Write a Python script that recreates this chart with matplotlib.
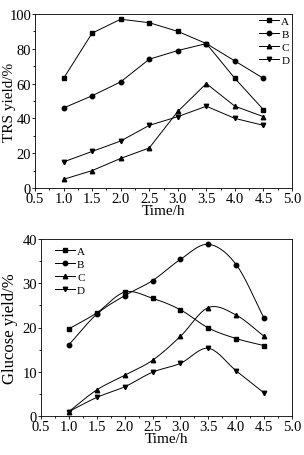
import numpy as np
import matplotlib
matplotlib.use('Agg')
import matplotlib.pyplot as plt
from matplotlib.ticker import MultipleLocator, FormatStrFormatter

plt.rcParams['font.family'] = ['Liberation Serif', 'DejaVu Serif']
plt.rcParams['font.size'] = 10

time = [1.0, 1.5, 2.0, 2.5, 3.0, 3.5, 4.0, 4.5]
labels = ['A', 'B', 'C', 'D']
markers = ['s', 'o', '^', 'v']

trs = {
    'A': [63, 89, 97, 95, 90, 83, 63, 45],
    'B': [46, 53, 61, 74, 79, 83, 73, 63],
    'C': [5, 10, 17, 23, 44, 60, 47, 41],
    'D': [15, 21, 27, 36, 41, 47, 40, 36],
}
glucose = {
    'A': [19.7, 23.3, 28.0, 26.6, 24.0, 19.9, 17.5, 15.9],
    'B': [16.1, 23.0, 27.2, 30.6, 35.4, 38.8, 34.2, 22.1],
    'C': [1.0, 5.9, 9.2, 12.6, 18.0, 24.5, 22.8, 18.0],
    'D': [1.0, 4.2, 6.6, 9.9, 11.9, 15.3, 10.2, 5.2],
}


def smooth(x, y, n=20):
    # catmull-rom curve through the points, only for drawing
    x = np.asarray(x, float)
    y = np.asarray(y, float)
    px = np.concatenate([[2 * x[0] - x[1]], x, [2 * x[-1] - x[-2]]])
    py = np.concatenate([[2 * y[0] - y[1]], y, [2 * y[-1] - y[-2]]])
    xs, ys = [], []
    t = np.linspace(0, 1, n, endpoint=False)
    for i in range(1, len(px) - 2):
        for p, out in ((px, xs), (py, ys)):
            p0, p1, p2, p3 = p[i - 1], p[i], p[i + 1], p[i + 2]
            out.extend(0.5 * (2 * p1 + (-p0 + p2) * t
                              + (2 * p0 - 5 * p1 + 4 * p2 - p3) * t ** 2
                              + (-p0 + 3 * p1 - 3 * p2 + p3) * t ** 3))
    xs.append(x[-1])
    ys.append(y[-1])
    return xs, ys


def style_axis(ax, ymax, ystep, ylabel, ylab_x, xlab_y, lab_size):
    ax.set_xlim(0.5, 5.0)
    ax.set_ylim(0, ymax)
    ax.xaxis.set_major_locator(MultipleLocator(0.5))
    ax.xaxis.set_minor_locator(MultipleLocator(0.25))
    ax.yaxis.set_major_locator(MultipleLocator(ystep))
    ax.yaxis.set_minor_locator(MultipleLocator(ystep / 2))
    ax.xaxis.set_major_formatter(FormatStrFormatter('%.1f'))
    ax.tick_params(which='both', direction='out', labelsize=10.5, width=0.6, pad=0.5)
    ax.tick_params(which='major', length=2.2)
    ax.tick_params(which='minor', length=1.4)
    for s in ax.spines.values():
        s.set_linewidth(0.6)
    ax.set_xlabel('Time/h', fontsize=11)
    ax.set_ylabel(ylabel, fontsize=lab_size)
    ax.yaxis.set_label_coords(ylab_x, 0.5)
    ax.xaxis.set_label_coords(0.5, xlab_y)


fig = plt.figure(figsize=(3.04, 4.56), dpi=100)
ax1 = fig.add_axes([35 / 304, 1 - 189 / 456, 257 / 304, 174 / 456])
ax2 = fig.add_axes([41 / 304, 1 - 417 / 456, 251 / 304, 177 / 456])

for lab, m in zip(labels, markers):
    ax1.plot(time, trs[lab], color='black', lw=0.7, marker=m, ms=3.2, label=lab)
style_axis(ax1, 100, 20, 'TRS yield/%', -0.072, -0.09, 11)
ax1.legend(loc='upper right', frameon=False, fontsize=8, handlelength=1.8,
           handletextpad=0.2, labelspacing=0.3, borderaxespad=0.0,
           borderpad=0.0, bbox_to_anchor=(0.99, 0.99))

for lab, m in zip(labels, markers):
    sx, sy = smooth(time, glucose[lab])
    ax2.plot(sx, sy, color='black', lw=0.7)
    ax2.plot(time, glucose[lab], ls='none', color='black', marker=m, ms=3.2)
    ax2.plot([], [], color='black', lw=0.7, marker=m, ms=3.2, label=lab)
style_axis(ax2, 40, 10, 'Glucose yield/%', -0.09, -0.088, 12)
ax2.legend(loc='upper left', frameon=False, fontsize=8, handlelength=1.8,
           handletextpad=0.2, labelspacing=0.3, borderaxespad=0.0,
           borderpad=0.0, bbox_to_anchor=(0.055, 0.96))

fig.savefig('out.png', dpi=100)
